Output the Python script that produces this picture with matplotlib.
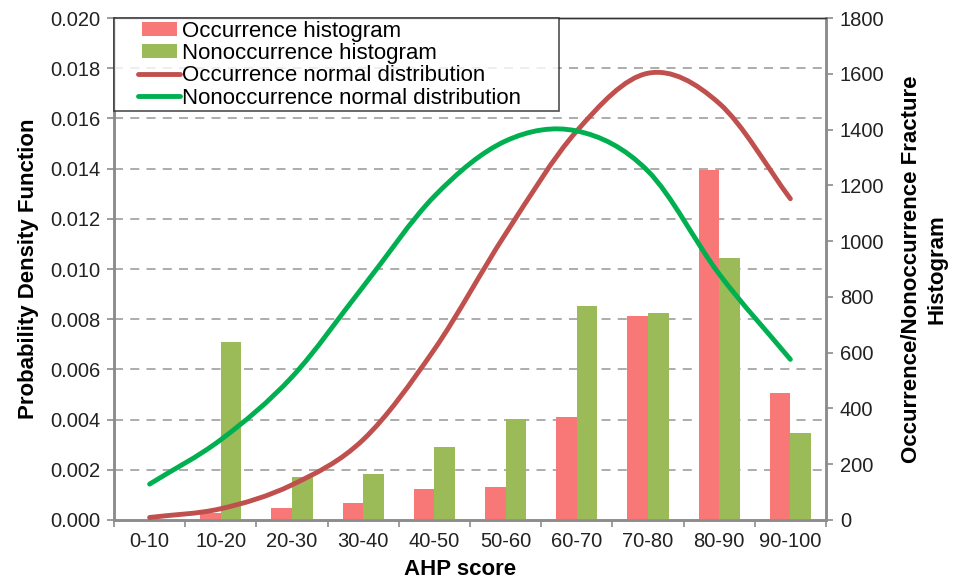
import numpy as np
import matplotlib
matplotlib.use("Agg")
import matplotlib.pyplot as plt
from matplotlib.path import Path
from matplotlib.patches import PathPatch, Patch, Rectangle
from matplotlib.lines import Line2D
from matplotlib.legend_handler import HandlerLine2D, HandlerPatch

plt.rcParams['font.family'] = ['Liberation Sans', 'DejaVu Sans']

# data
categories = ['0-10', '10-20', '20-30', '30-40', '40-50',
              '50-60', '60-70', '70-80', '80-90', '90-100']
occ_hist = [0, 25, 43, 62, 111, 117, 370, 731, 1254, 456]
nonocc_hist = [0, 639, 153, 166, 263, 361, 767, 742, 941, 311]
occ_pdf = [0.0001, 0.00045, 0.0014, 0.0032, 0.0068, 0.0114, 0.0155, 0.0178, 0.0166, 0.0128]
nonocc_pdf = [0.00143, 0.0032, 0.0057, 0.0093, 0.0129, 0.0151, 0.0155, 0.0139, 0.0098, 0.0064]

occ_bar_color = '#F87878'
nonocc_bar_color = '#9BBB59'
occ_line_color = '#C0504D'
nonocc_line_color = '#00B050'
grid_color = '#A6A6A6'
spine_color = '#8C8C8C'


def smooth_path(xs, ys, tension=1.0 / 6):
    # Excel-style smoothed line: cubic bezier segments through the points
    pts = np.column_stack([xs, ys]).astype(float)
    n = len(pts)
    verts = [pts[0]]
    codes = [Path.MOVETO]
    for i in range(n - 1):
        p0 = pts[i - 1] if i > 0 else 2 * pts[0] - pts[1]
        p1 = pts[i]
        p2 = pts[i + 1]
        p3 = pts[i + 2] if i + 2 < n else 2 * pts[-1] - pts[-2]
        c1 = p1 + (p2 - p0) * tension
        c2 = p2 - (p3 - p1) * tension
        verts += [c1, c2, p2]
        codes += [Path.CURVE4] * 3
    return Path(verts, codes)


# legend handles are indented a bit from the frame, like the original
INDENT = 15


class IndentLine(HandlerLine2D):
    def get_xdata(self, legend, xdescent, ydescent, width, height, fontsize):
        xd = np.array([-xdescent + INDENT, -xdescent + width])
        return xd, xd


def indent_patch(legend, orig_handle, xdescent, ydescent, width, height, fontsize):
    return Rectangle((-xdescent + INDENT + 3, -ydescent), width - INDENT - 5, height)


fig = plt.figure(figsize=(9.54, 5.81), dpi=100)
ax = fig.add_axes([0.1195, 0.105, 0.7463, 0.864])
ax2 = ax.twinx()

x = np.arange(len(categories))
w = 0.29

# bars on the right axis
ax2.bar(x - w / 2, occ_hist, width=w, color=occ_bar_color, zorder=2)
ax2.bar(x + w / 2, nonocc_hist, width=w, color=nonocc_bar_color, zorder=2)
ax2.set_ylim(0, 1800)
ax2.set_yticks(np.arange(0, 1801, 200))

# grid on the left axis scale, behind bars
ax.set_ylim(0, 0.020)
ax.set_xlim(-0.5, len(categories) - 0.5)
ax.set_yticks(np.arange(0, 0.0201, 0.002))
ax.set_yticklabels(['%.3f' % v for v in np.arange(0, 0.0201, 0.002)])
for yv in np.arange(0.002, 0.0181, 0.002):
    ax.axhline(yv, color=grid_color, lw=1.3, ls=(0, (5, 4)), zorder=0)

# curves use the left scale, drawn on ax2 so they sit above the bars
scale = 1800 / 0.020
for vals, col in [(occ_pdf, occ_line_color), (nonocc_pdf, nonocc_line_color)]:
    path = smooth_path(x, np.array(vals) * scale)
    ax2.add_patch(PathPatch(path, facecolor='none', edgecolor=col, lw=3.5,
                            capstyle='round', joinstyle='round', zorder=3))

ax.set_zorder(0)
ax2.set_zorder(1)
ax2.patch.set_visible(False)

ax.set_xticks(x)
ax.set_xticklabels(categories)
ax.set_xticks(np.arange(-0.5, len(categories) + 0.5, 1), minor=True)
ax.tick_params(axis='x', which='major', length=0, labelsize=14.5, pad=9, colors='#222222')
ax.tick_params(axis='x', which='minor', length=5, color=spine_color, width=1.2)
ax.tick_params(axis='y', length=5, color=spine_color, width=1.2, labelsize=14.5,
               pad=5, labelcolor='#222222')
ax2.tick_params(axis='y', length=5, color=spine_color, width=1.2, labelsize=14.5,
                pad=5, labelcolor='#222222')

for a in (ax, ax2):
    for side in ('left', 'bottom', 'right'):
        a.spines[side].set_color(spine_color)
        a.spines[side].set_linewidth(1.8)
    a.spines['top'].set_color('#333333')
    a.spines['top'].set_linewidth(1.0)

ax.set_xlabel('AHP score', fontsize=16, fontweight='bold', labelpad=5)
ax.xaxis.set_label_coords(0.486, -0.077)
ax.xaxis.label.set_va('top')
ax.set_ylabel('Probability Density Function', fontsize=16, fontweight='bold', labelpad=8)
ax2.set_ylabel('Occurrence/Nonoccurrence Fracture\nHistogram', fontsize=16,
               fontweight='bold', labelpad=12, linespacing=1.25)

handles = [
    Patch(facecolor=occ_bar_color, edgecolor='none'),
    Patch(facecolor=nonocc_bar_color, edgecolor='none'),
    Line2D([], [], color=occ_line_color, lw=3.5, solid_capstyle='round'),
    Line2D([], [], color=nonocc_line_color, lw=3.5, solid_capstyle='round'),
]
labels = ['Occurrence histogram', 'Nonoccurrence histogram',
          'Occurrence normal distribution', 'Nonoccurrence normal distribution']
hmap = {Line2D: IndentLine(), Patch: HandlerPatch(patch_func=indent_patch)}
leg = ax2.legend(handles, labels, loc='upper left', bbox_to_anchor=(0.0, 1.0, 0.625, 0.0),
                 mode='expand', handler_map=hmap,
                 fontsize=16, frameon=True, fancybox=False, handlelength=2.84,
                 handleheight=0.6, handletextpad=0.1, labelspacing=0.06,
                 borderpad=0.12, borderaxespad=0.0)
leg.get_frame().set_edgecolor('#222222')
leg.get_frame().set_linewidth(1.2)
leg.set_zorder(5)

fig.savefig('out.png', dpi=100)
